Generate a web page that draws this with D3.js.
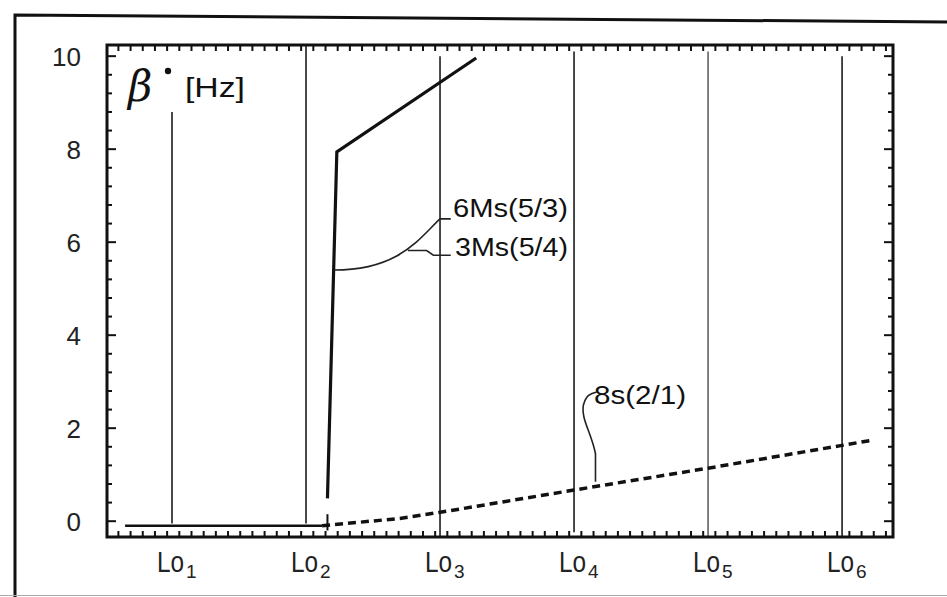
<!DOCTYPE html>
<html>
<head>
<meta charset="utf-8">
<script src="https://cdn.jsdelivr.net/npm/d3@7"></script>
<style>
  body { margin: 0; background: #fff; }
  svg { display: block; }
  text { font-family: "Liberation Sans", "DejaVu Sans", sans-serif; fill: #111; }
</style>
</head>
<body>
<div id="viz_div"></div>
<script>
// DATA
// ---------------------------------------------------------------------------------------------------------------------------------
const loTicks = [1, 2, 3, 4, 5, 6];
const loLabels = ["1", "2", "3", "4", "5", "6"];
const loTop = [8.8, 10.24, 10.0, 10.1, 10.1, 10.0];
const loBottom = [-0.05, -0.05, -0.34, -0.24, -0.34, -0.34];
const yTicks = [0, 2, 4, 6, 8, 10];

// flat solid segment before Lo2
const baseX = [0.65, 2.12];
const baseY = [-0.1, -0.1];

// 6Ms(5/3) / 3Ms(5/4) solid branch
const msX = [2.16, 2.23, 3.27];
const msY = [0.49, 7.94, 9.96];

// 8s(2/1) dashed branch
const sX = [2.12, 2.70, 3, 4, 5, 6, 6.22];
const sY = [-0.1, 0.06, 0.19, 0.67, 1.14, 1.63, 1.74];

// SCALES
// ---------------------------------------------------------------------------------------------------------------------------------
const W = 947, H = 597;
const box = { left: 107, right: 893, top: 45, bottom: 537 };

const x = d3.scaleLinear([0.515, 6.38], [box.left, box.right]);
const y = d3.scaleLinear([-0.34, 10.24], [box.bottom, box.top]);

const svg = d3.select("#viz_div")
    .append("svg")
    .attr("width", W)
    .attr("height", H);

// OUTER FRAME OF THE SCAN
// ---------------------------------------------------------------------------------------------------------------------------------
svg.append("path")
    .attr("d", "M15,597 L15,15 L947,22")
    .attr("fill", "none")
    .attr("stroke", "#111")
    .attr("stroke-width", 3);
svg.append("line")
    .attr("x1", 0).attr("x2", 947)
    .attr("y1", 595.5).attr("y2", 595.5)
    .attr("stroke", "#aaa")
    .attr("stroke-width", 1.2);

// VERTICAL Lo LINES
// ---------------------------------------------------------------------------------------------------------------------------------
svg.selectAll("loLines")
    .data(loTicks)
    .enter()
    .append("line")
    .attr("x1", d => x(d))
    .attr("x2", d => x(d))
    .attr("y1", (d, i) => y(loTop[i]))
    .attr("y2", (d, i) => y(loBottom[i]))
    .attr("stroke", "#2a2a2a")
    .attr("stroke-opacity", (d, i) => i === 4 ? 0.65 : 0.95)
    .attr("stroke-width", 1.8);

// DATA LINES
// ---------------------------------------------------------------------------------------------------------------------------------
const line = d3.line()
    .x(d => x(d[0]))
    .y(d => y(d[1]));

svg.append("path")
    .datum(d3.zip(baseX, baseY))
    .attr("fill", "none")
    .attr("stroke", "#111")
    .attr("stroke-width", 2.5)
    .attr("d", line);

svg.append("path")
    .datum(d3.zip(msX, msY))
    .attr("fill", "none")
    .attr("stroke", "#111")
    .attr("stroke-width", 3.2)
    .attr("stroke-linejoin", "miter")
    .attr("d", line);

svg.append("path")
    .datum(d3.zip(sX, sY))
    .attr("fill", "none")
    .attr("stroke", "#111")
    .attr("stroke-width", 3.5)
    .attr("stroke-dasharray", "8,5")
    .attr("d", line);

// short tick where the dashed branch starts
svg.append("line")
    .attr("x1", x(2.16)).attr("x2", x(2.16))
    .attr("y1", y(0.15)).attr("y2", y(-0.2))
    .attr("stroke", "#111")
    .attr("stroke-width", 2);

// PLOT BOX AND TICKS
// ---------------------------------------------------------------------------------------------------------------------------------
svg.append("rect")
    .attr("x", box.left)
    .attr("y", box.top)
    .attr("width", box.right - box.left)
    .attr("height", box.bottom - box.top)
    .attr("fill", "none")
    .attr("stroke", "#111")
    .attr("stroke-width", 3);

const minorY = d3.range(-0.0, 10.21, 0.4);
const minorX = d3.range(0.6, 6.38, 1 / 11);

svg.selectAll("leftTicks")
    .data(minorY)
    .enter()
    .append("line")
    .attr("x1", box.left)
    .attr("x2", (d) => box.left + (Math.abs(d % 2) < 0.01 ? 9 : 5))
    .attr("y1", d => y(d))
    .attr("y2", d => y(d))
    .attr("stroke", "#111")
    .attr("stroke-width", 2);

svg.selectAll("rightTicks")
    .data(minorY)
    .enter()
    .append("line")
    .attr("x1", box.right)
    .attr("x2", (d) => box.right - (Math.abs(d % 2) < 0.01 ? 9 : 5))
    .attr("y1", d => y(d))
    .attr("y2", d => y(d))
    .attr("stroke", "#111")
    .attr("stroke-width", 2);

svg.selectAll("topTicks")
    .data(minorX)
    .enter()
    .append("line")
    .attr("x1", d => x(d))
    .attr("x2", d => x(d))
    .attr("y1", box.top)
    .attr("y2", box.top + 6)
    .attr("stroke", "#111")
    .attr("stroke-width", 2);

svg.selectAll("bottomTicks")
    .data(minorX)
    .enter()
    .append("line")
    .attr("x1", d => x(d))
    .attr("x2", d => x(d))
    .attr("y1", box.bottom)
    .attr("y2", box.bottom - 6)
    .attr("stroke", "#111")
    .attr("stroke-width", 2);

// TICK LABELS
// ---------------------------------------------------------------------------------------------------------------------------------
svg.selectAll("yLabels")
    .data(yTicks)
    .enter()
    .append("text")
    .attr("x", 81)
    .attr("y", d => y(d))
    .attr("dy", "0.36em")
    .attr("text-anchor", "end")
    .style("font-size", "26px")
    .style("fill", "#222")
    .text(d => d);

// "Lo" (narrowed) and its index as two texts side by side
svg.selectAll("loLabels")
    .data(loTicks)
    .enter()
    .append("text")
    .attr("transform", d => `translate(${x(d) - 15},572) scale(0.84,1)`)
    .style("font-size", "29px")
    .style("fill", "#222")
    .text("Lo");

svg.selectAll("loSubs")
    .data(loTicks)
    .enter()
    .append("text")
    .attr("x", d => x(d) + 14)
    .attr("y", 578)
    .style("font-size", "19px")
    .style("fill", "#222")
    .text((d, i) => loLabels[i]);

// AXIS TITLE
// ---------------------------------------------------------------------------------------------------------------------------------
svg.append("text")
    .attr("x", 128)
    .attr("y", 101)
    .style("font-family", "'DejaVu Serif', 'Liberation Serif', serif")
    .style("font-style", "italic")
    .style("font-size", "42px")
    .text("β");
svg.append("circle")
    .attr("cx", 168)
    .attr("cy", 71)
    .attr("r", 3.2)
    .attr("fill", "#111");
svg.append("text")
    .attr("x", 185)
    .attr("y", 97)
    .attr("textLength", 60)
    .attr("lengthAdjust", "spacingAndGlyphs")
    .style("font-size", "27px")
    .text("[Hz]");

// ANNOTATIONS
// ---------------------------------------------------------------------------------------------------------------------------------
const notes = [
    { label: "6Ms(5/3)", lx: 453, ly: 217, len: 115 },
    { label: "3Ms(5/4)", lx: 455, ly: 256, len: 113 },
    { label: "8s(2/1)", lx: 594, ly: 404, len: 92 }
];

svg.selectAll("notes")
    .data(notes)
    .enter()
    .append("text")
    .attr("x", d => d.lx)
    .attr("y", d => d.ly)
    .attr("textLength", d => d.len)
    .attr("lengthAdjust", "spacingAndGlyphs")
    .style("font-size", "25px")
    .text(d => d.label);

const leader = d3.path();
// curve from the solid branch up to 6Ms(5/3)
leader.moveTo(x(2.21), y(5.4));
leader.bezierCurveTo(x(2.7), y(5.4), x(2.85), y(6.1), x(3.0), y(6.5));
leader.lineTo(x(3.08), y(6.5));
// branch towards 3Ms(5/4)
leader.moveTo(x(2.76), y(5.82));
leader.lineTo(x(2.9), y(5.82));
leader.lineTo(x(2.95), y(5.72));
leader.lineTo(x(3.08), y(5.72));
// 8s(2/1) leader down to the dashed line
leader.moveTo(x(4.16), y(0.85));
leader.lineTo(x(4.16), y(1.45));
leader.bezierCurveTo(x(4.13), y(1.9), x(4.05), y(2.2), x(4.07), y(2.5));
leader.bezierCurveTo(x(4.09), y(2.7), x(4.12), y(2.75), x(4.17), y(2.78));

svg.append("path")
    .attr("d", leader.toString())
    .attr("fill", "none")
    .attr("stroke", "#222")
    .attr("stroke-width", 1.6);
</script>
</body>
</html>
